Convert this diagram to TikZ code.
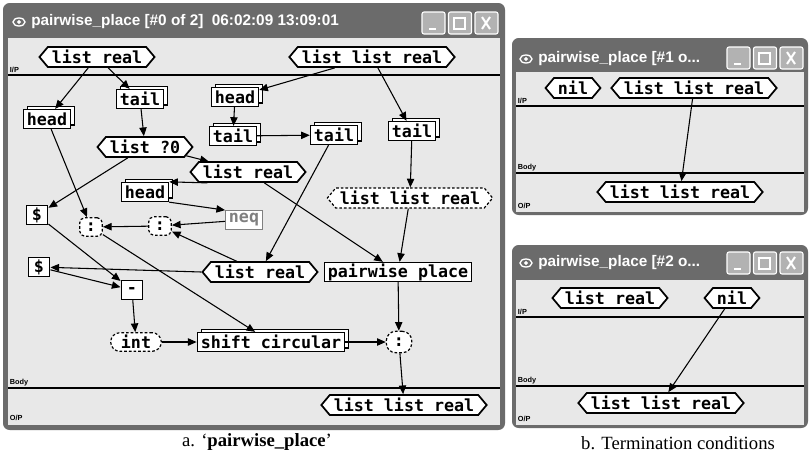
\documentclass[tikz,border=0pt]{standalone}
\usepackage{fontspec}
\setmainfont{Liberation Serif}
\setsansfont{Liberation Sans}
\setmonofont{DejaVu Sans Mono}
\usetikzlibrary{arrows.meta,shapes.symbols,shadows}

\definecolor{winframe}{gray}{0.42}
\definecolor{client}{gray}{0.91}
\definecolor{btn}{gray}{0.70}

\begin{document}
\begin{tikzpicture}[x=0.75pt, y=-0.75pt,
    >={Triangle[length=6.5pt,width=5.5pt]},
    every node/.style={font=\fontsize{12.5}{13}\selectfont\ttfamily\bfseries},
    typ/.style={signal, signal to=east and west, signal pointer angle=100,
        draw, line width=1.3pt, fill=white, minimum height=15pt,
        inner xsep=3pt, inner ysep=0.5pt},
    typd/.style={typ, line width=0.9pt, dash pattern=on 2pt off 1.5pt},
    fn/.style={draw, line width=1.2pt, fill=white, minimum height=14pt,
        inner xsep=2.5pt, inner ysep=0.5pt},
    fns/.style={fn, copy shadow={shadow xshift=3pt, shadow yshift=2.5pt,
        fill=white, draw=black, line width=1pt}},
    gate/.style={draw, line width=0.9pt, dash pattern=on 2pt off 1.5pt,
        rounded corners=4pt, fill=white, minimum width=17pt,
        minimum height=14pt, inner sep=1pt},
    flow/.style={->, line width=0.8pt},
    lbl/.style={font=\fontsize{5.5}{6}\selectfont\sffamily\bfseries,
        anchor=south west, inner sep=0.5pt},
    wintitle/.style={font=\fontsize{11.5}{12}\selectfont\sffamily\bfseries,
        text=white, anchor=west, inner sep=0pt},
    caption/.style={font=\fontsize{14}{16}\selectfont\rmfamily}
]
    \useasboundingbox (0,0) rectangle (809,458);

    % Windows
    \fill[winframe, rounded corners=5] (3,3) rectangle (505,430);
    \fill[client] (8,38) rectangle (500,425);
    \fill[winframe, rounded corners=5] (512,38) rectangle (808,215);
    \fill[client] (516,72) rectangle (804,212);
    \fill[winframe, rounded corners=5] (512,245) rectangle (808,428);
    \fill[client] (516,280) rectangle (804,425);

    % Title bar buttons
    \foreach \bx/\by in {422/12, 727/47, 727/252} {
        \foreach \i in {0,1,2}
            \draw[white, fill=btn, line width=0.8pt, rounded corners=1.5]
                (\bx+\i*26.5,\by) rectangle ++(23,22);
        \draw[white, line width=2pt] (\bx+7,\by+17) -- (\bx+14,\by+17);
        \draw[white, line width=1.3pt] (\bx+32,\by+6) rectangle (\bx+43,\by+17);
        \draw[white, line width=1.5pt] (\bx+60,\by+5) -- (\bx+68,\by+17)
            (\bx+68,\by+5) -- (\bx+60,\by+17);
    }

    % Title icons and texts
    \foreach \ix/\iy in {19/22, 526/59, 526/263}
        \draw[white, line width=1pt] (\ix,\iy) ellipse (6 and 4) (\ix,\iy) circle (1.2);
    \node[wintitle] (title0) at (31,22) {pairwise\_place [\#0 of 2]\ \ 06:02:09 13:09:01};
    \node[wintitle] (title1) at (538,59) {pairwise\_place [\#1 o...};
    \node[wintitle] (title2) at (538,263) {pairwise\_place [\#2 o...};

    % Section lines
    \draw[line width=0.9pt] (8,75) -- (500,75);
    \draw[line width=0.9pt] (8,388) -- (500,388);
    \draw[line width=0.9pt] (516,106) -- (804,106);
    \draw[line width=0.9pt] (516,173) -- (804,173);
    \draw[line width=0.9pt] (516,317) -- (804,317);
    \draw[line width=0.9pt] (516,386) -- (804,386);
    \node[lbl] (ip0) at (9,74) {I/P};
    \node[lbl] (body0) at (9,387) {Body};
    \node[lbl] (op0) at (9,422) {O/P};
    \node[lbl] (ip1) at (517,105) {I/P};
    \node[lbl] (body1) at (517,172) {Body};
    \node[lbl] (op1) at (517,210) {O/P};
    \node[lbl] (ip2) at (517,316) {I/P};
    \node[lbl] (body2) at (517,385) {Body};
    \node[lbl] (op2) at (517,423) {O/P};

    % Main case
    \node[typ] (in1) at (97,57) {list real};
    \node[typ] (in2) at (372,57) {list list real};
    \node[fns] (head1) at (47,119) {head};
    \node[fns] (tail1) at (140,99) {tail};
    \node[fns] (head2) at (235,97) {head};
    \node[fns] (tail2) at (233,136) {tail};
    \node[fns] (tail3) at (334,135) {tail};
    \node[fns] (tail4) at (412,131) {tail};
    \node[typ] (lq) at (145,147) {list ?0};
    \node[typ] (lr2) at (248,172) {list real};
    \node[fns] (head3) at (145,192) {head};
    \node[fn, draw=gray, text=gray, line width=0.8pt] (neq) at (244,220) {neq};
    \node[gate] (m2) at (160,226) {:};
    \node[gate] (m1) at (91,227) {:};
    \node[fn, minimum width=16pt] (app1) at (37,215) {\$};
    \node[fn, minimum width=16pt] (app2) at (39,267) {\$};
    \node[fn, minimum width=16pt] (sub) at (132,290) {-};
    \node[typ] (lr3) at (260,272) {list real};
    \node[typd] (llr2) at (410,198) {list list real};
    \node[fn] (pw) at (398,272) {pairwise place};
    \node[gate, rounded corners=7pt, minimum width=38pt] (int1) at (136,342) {int};
    \node[fns] (shift) at (271,342) {shift circular};
    \node[gate, rounded corners=7pt, minimum height=16pt, minimum width=19pt] (m3) at (399,342) {:};
    \node[typ] (out) at (404,405) {list list real};

    \draw[flow] (in1) -- (head1);
    \draw[flow] (in1) -- (tail1);
    \draw[flow] (in2) -- (head2);
    \draw[flow] (in2) -- (tail4);
    \draw[flow] (head2) -- (tail2);
    \draw[flow] (tail2) -- (tail3);
    \draw[flow] (tail1) -- (lq);
    \draw[flow] (lq.-12) -- (lr2.165);
    \draw[flow] (lq) -- (app1);
    \draw[flow] (head1) -- (m1);
    \draw[flow] (lr2.195) -- (head3.north east);
    \draw[flow] (head3.south east) -- (neq.north west);
    \draw[flow] (neq) -- (m2);
    \draw[flow] (lr3) -- (m2);
    \draw[flow] (m2) -- (m1);
    \draw[flow] (lr2) -- (pw);
    \draw[flow] (tail3) -- (lr3);
    \draw[flow] (tail4) -- (llr2);
    \draw[flow] (llr2) -- (pw);
    \draw[flow] (lr3.west) -- (app2);
    \draw[flow] (app1) -- (sub);
    \draw[flow] (app2) -- (sub);
    \draw[flow] (sub) -- (int1);
    \draw[flow] (int1) -- (shift);
    \draw[flow] (m1) -- (shift);
    \draw[flow] (shift) -- (m3);
    \draw[flow] (pw) -- (m3);
    \draw[flow] (m3) -- (out);

    % Termination cases
    \node[typ] (nil1) at (573,88) {nil};
    \node[typ] (llr3) at (694,88) {list list real};
    \node[typ] (out1) at (680,192) {list list real};
    \draw[flow] (llr3) -- (out1);

    \node[typ] (lr4) at (610,298) {list real};
    \node[typ] (nil2) at (732,298) {nil};
    \node[typ] (out2) at (661,403) {list list real};
    \draw[flow] (nil2) -- (out2);

    % Captions
    \node[caption] (capa) at (257,442) {a. ‘\textbf{pairwise\_place}’};
    \node[caption] (capb) at (678,443) {b. Termination conditions};
\end{tikzpicture}
\end{document}
